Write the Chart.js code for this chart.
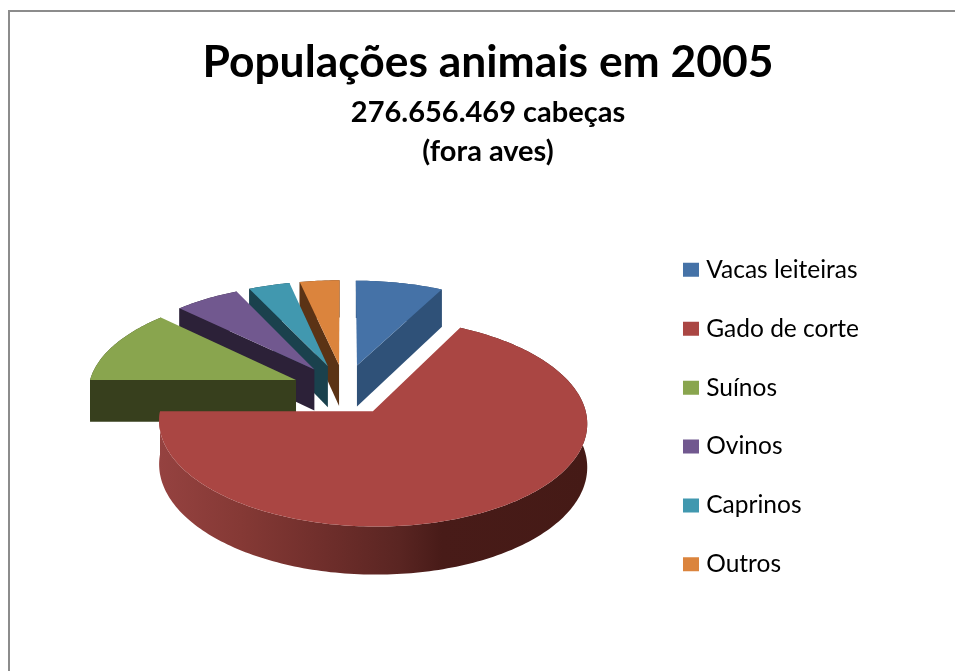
<!DOCTYPE html>
<html lang="pt">
<head>
<meta charset="utf-8">
<title>Populações animais em 2005</title>
<script src="https://cdn.jsdelivr.net/npm/chart.js@4"></script>
<style>
	html, body { margin: 0; height: 100%; overflow: hidden; background: #fff; }
	#frame { position: absolute; left: 8px; top: 10px; border-left: 2px solid #8c8c8c; border-top: 2px solid #8c8c8c; }
	canvas { display: block; }
</style>
</head>
<body>
<div id="frame"><canvas id="chart" width="956" height="671"></canvas></div>
<script>
// Millions of head, 2005
const categories = ['Vacas leiteiras', 'Gado de corte', 'Suínos', 'Ovinos', 'Caprinos', 'Outros']
const head_counts = [21.1, 186.4, 33.8, 15.8, 10.0, 9.6]

const title_text = 'Populações animais em 2005'
const subtitle_lines = ['276.656.469 cabeças', '(fora aves)']

const top_colors = ['#4572a7', '#aa4643', '#89a54e', '#71588f', '#4198af', '#db843d']
const side_colors = ['#2f5178', '#4a1c19', '#373f1d', '#2c2138', '#1a414d', '#5b3315']

// Shading of the front wall, left to right
const wall_stops = [[0, '#954240'], [0.19, '#853935'], [0.37, '#712f2c'], [0.56, '#5a2522'], [0.66, '#481b18'], [1, '#451a16']]

const pie3d = {
	shift_x: -35.6,
	shift_y: -1.8,
	tilt: 0.473,
	perspective: 0.0005,
	depth: 42
}

// Pie plane to canvas: u goes right, v goes towards the viewer
function project(arc, u, v, lift) {
	const w = 1 - pie3d.perspective * v
	return {
		x: arc.x + pie3d.shift_x + u / w,
		y: arc.y + pie3d.shift_y + (pie3d.tilt * v + lift) / w
	}
}

// Apex and rim of a slice in the plane, pushed out along its middle angle
function slice_outline(arc) {
	const mid = (arc.startAngle + arc.endAngle) / 2
	const ox = Math.cos(mid) * arc.options.offset
	const oy = Math.sin(mid) * arc.options.offset
	const steps = Math.ceil((arc.endAngle - arc.startAngle) / 0.02)
	const rim = []
	for (let s = 0; s <= steps; s++) {
		const a = arc.startAngle + (arc.endAngle - arc.startAngle) * s / steps
		rim.push([ox + Math.cos(a) * arc.outerRadius, oy + Math.sin(a) * arc.outerRadius])
	}
	return { apex: [ox, oy], rim: rim }
}

function fill_path(ctx, points, style) {
	ctx.beginPath()
	points.forEach((p, i) => i ? ctx.lineTo(p.x, p.y) : ctx.moveTo(p.x, p.y))
	ctx.closePath()
	ctx.fillStyle = style
	ctx.fill()
}

function draw_slice(ctx, arc, index) {
	const outline = slice_outline(arc)
	const up = outline.rim.map(p => project(arc, p[0], p[1], 0))
	const down = outline.rim.map(p => project(arc, p[0], p[1], pie3d.depth))
	const apex_up = project(arc, outline.apex[0], outline.apex[1], 0)
	const apex_down = project(arc, outline.apex[0], outline.apex[1], pie3d.depth)

	// Outer wall, a gradient only where it faces the viewer
	let wall = side_colors[index]
	if (Math.sin((arc.startAngle + arc.endAngle) / 2) > 0) {
		const xs = up.map(p => p.x)
		wall = ctx.createLinearGradient(Math.min(...xs), 0, Math.max(...xs), 0)
		wall_stops.forEach(s => wall.addColorStop(s[0], s[1]))
	}
	fill_path(ctx, up.concat(down.slice().reverse()), wall)

	// Cut faces that turn towards the viewer
	if (Math.cos(arc.startAngle) < 0) {
		fill_path(ctx, [apex_up, up[0], down[0], apex_down], side_colors[index])
	}
	if (Math.cos(arc.endAngle) > 0) {
		const last = up.length - 1
		fill_path(ctx, [apex_up, up[last], down[last], apex_down], side_colors[index])
	}

	fill_path(ctx, [apex_up].concat(up), arc.options.backgroundColor)
}

const pie3d_plugin = {
	id: 'pie3d',
	beforeDatasetDraw(chart, args) {
		const ctx = chart.ctx
		const arcs = args.meta.data.map((arc, i) => ({ arc: arc, index: i }))
		// Back to front
		arcs.sort((a, b) => Math.sin((a.arc.startAngle + a.arc.endAngle) / 2) - Math.sin((b.arc.startAngle + b.arc.endAngle) / 2))
		arcs.forEach(item => draw_slice(ctx, item.arc, item.index))
		return false
	}
}

new Chart(document.getElementById('chart'), {
	type: 'pie',
	data: {
		labels: categories,
		datasets: [{
			data: head_counts,
			backgroundColor: top_colors,
			borderWidth: 0,
			offset: 53,
			radius: 208
		}]
	},
	plugins: [pie3d_plugin],
	options: {
		responsive: false,
		animation: false,
		layout: { padding: { left: 97, right: 97, top: 24, bottom: 72 } },
		plugins: {
			title: {
				display: true,
				text: title_text,
				color: '#000',
				font: { family: 'Lato', size: 44.4, weight: 'bold', lineHeight: 1.2 },
				padding: { top: 0, bottom: 4 }
			},
			subtitle: {
				display: true,
				text: subtitle_lines,
				color: '#000',
				font: { family: 'Lato', size: 29, weight: 'bold', lineHeight: 1.345 },
				padding: { top: 0, bottom: 0 }
			},
			legend: {
				position: 'right',
				align: 'end',
				labels: {
					color: '#000',
					font: { family: 'Lato', size: 24.5 },
					padding: 34.4,
					// small box plus a thick stroke gives a 16x14 swatch close to its text
					boxWidth: 6,
					boxHeight: 4,
					generateLabels: chart => Chart.overrides.pie.plugins.legend.labels.generateLabels(chart).map(item => ({
						...item,
						strokeStyle: item.fillStyle,
						lineWidth: 10
					}))
				}
			},
			tooltip: { enabled: false }
		}
	}
})
</script>
</body>
</html>
